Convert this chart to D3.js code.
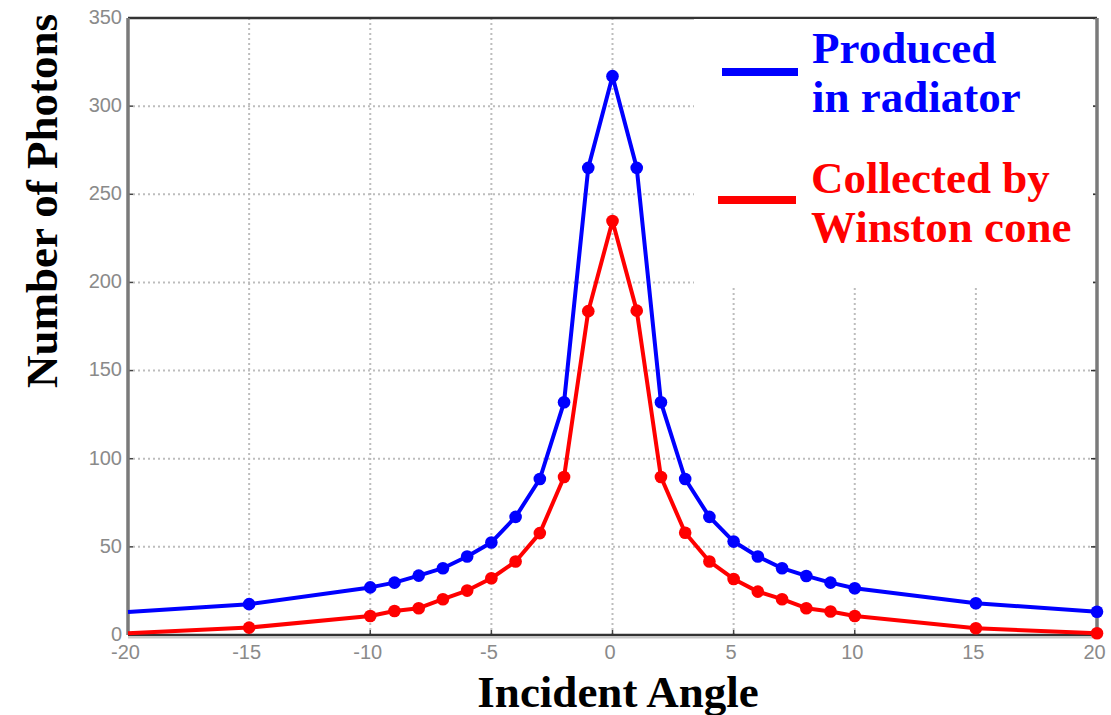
<!DOCTYPE html>
<html><head><meta charset="utf-8">
<script src="https://cdn.jsdelivr.net/npm/d3@7"></script>
<style>body{margin:0;background:#fff}svg{display:block}</style>
</head><body>
<svg id="c" width="1111" height="715"></svg>
<script>
const angles = [-20,-15,-10,-9,-8,-7,-6,-5,-4,-3,-2,-1,0,1,2,3,4,5,6,7,8,9,10,15,20];
const produced = [13,17.5,27,29.7,33.7,37.9,44.5,52.5,67,88.5,132,265,317,265,132,88.5,67,53,44.5,37.9,33.5,29.7,26.5,18,13.2];
const collected = [1,4.2,10.8,13.6,15.2,20.3,25.2,32.2,41.7,57.8,89.6,183.7,234.8,184,89.6,58,41.7,31.8,24.6,20.3,15.2,13.3,10.8,3.8,1];
const xTicks = [-20,-15,-10,-5,0,5,10,15,20];
const yTicks = [0,50,100,150,200,250,300,350];
const legendProduced = ["Produced","in radiator"];
const legendCollected = ["Collected by","Winston cone"];

const svg = d3.select("#c");
const L=128, T=18, R=1097, B=635;
const x = d3.scaleLinear().domain([-20,20]).range([L,R]);
const y = d3.scaleLinear().domain([0,350]).range([B,T]);

// grid
const g = svg.append("g");
g.selectAll(".gx").data(xTicks.slice(1,-1)).join("line")
  .attr("x1",d=>x(d)).attr("x2",d=>x(d)).attr("y1",T).attr("y2",B)
  .attr("stroke","#bdbdbd").attr("stroke-width",2).attr("stroke-dasharray","2,3");
g.selectAll(".gy").data(yTicks.slice(1,-1)).join("line")
  .attr("y1",d=>y(d)).attr("y2",d=>y(d)).attr("x1",L).attr("x2",R)
  .attr("stroke","#bdbdbd").attr("stroke-width",2).attr("stroke-dasharray","2,3");

// inner ticks
g.selectAll(".tb").data(xTicks).join("line")
  .attr("x1",d=>x(d)).attr("x2",d=>x(d)).attr("y1",B).attr("y2",B-5).attr("stroke","#444").attr("stroke-width",1.5);
g.selectAll(".tr").data(yTicks).join("line")
  .attr("y1",d=>y(d)).attr("y2",d=>y(d)).attr("x1",R).attr("x2",R-6).attr("stroke","#333").attr("stroke-width",1.5);
g.selectAll(".tl").data(yTicks).join("line")
  .attr("y1",d=>y(d)).attr("y2",d=>y(d)).attr("x1",L).attr("x2",L+5).attr("stroke","#444").attr("stroke-width",1.5);

// axes tick labels
const fmt = d => String(d);
const xAxis = d3.axisBottom(x).tickValues(xTicks).tickFormat(fmt).tickSize(0).tickPadding(10);
const ax = svg.append("g").attr("transform",`translate(-3,${B})`).call(xAxis);
ax.select(".domain").remove();
ax.selectAll("text").attr("font-family","Liberation Sans, Arial, sans-serif").attr("font-size",20).attr("fill","#8a8a8a");
const yAxis = d3.axisLeft(y).tickValues(yTicks).tickFormat(fmt).tickSize(0).tickPadding(6);
const ay = svg.append("g").attr("transform",`translate(${L},-1)`).call(yAxis);
ay.select(".domain").remove();
ay.selectAll("text").attr("font-family","Liberation Sans, Arial, sans-serif").attr("font-size",20).attr("fill","#8a8a8a");

// frame
svg.append("line").attr("x1",L).attr("x2",R).attr("y1",T).attr("y2",T).attr("stroke","#333").attr("stroke-width",2.5);
svg.append("line").attr("x1",L).attr("x2",R+2).attr("y1",B).attr("y2",B).attr("stroke","#333").attr("stroke-width",2.5);
svg.append("line").attr("x1",L).attr("x2",R+2).attr("y1",B+2.5).attr("y2",B+2.5).attr("stroke","#c8c8c8").attr("stroke-width",2);
svg.append("line").attr("x1",L).attr("x2",L).attr("y1",T).attr("y2",B).attr("stroke","#7a7a7a").attr("stroke-width",3.5);
svg.append("line").attr("x1",R).attr("x2",R).attr("y1",T).attr("y2",B).attr("stroke","#7a7a7a").attr("stroke-width",3.5);

// series
const series = [
  {vals: produced, color: "#0000ff"},
  {vals: collected, color: "#ff0000"}
];
const line = d3.line().x(d=>x(d.a)).y(d=>y(d.v));
series.forEach(s=>{
  const data = angles.map((a,i)=>({a, v:s.vals[i]}));
  svg.append("path").datum(data).attr("d",line).attr("fill","none")
    .attr("stroke",s.color).attr("stroke-width",4).attr("stroke-linejoin","round");
  svg.append("g").selectAll("path").data(data.filter(d=>d.a>-20)).join("path")
    .attr("transform",d=>`translate(${x(d.a)},${y(d.v)})`)
    .attr("d",d3.symbol(d3.symbolCircle,125)())
    .attr("fill",s.color);
});

// legend box
svg.append("rect").attr("x",694).attr("y",19).attr("width",399).attr("height",266).attr("fill","#fff");
const lg = svg.append("g").attr("font-family","Liberation Serif, Times New Roman, serif").attr("font-weight","bold").attr("font-size",45);
lg.append("line").attr("x1",722).attr("x2",798).attr("y1",72).attr("y2",72).attr("stroke","#0000ff").attr("stroke-width",8);
lg.append("line").attr("x1",718).attr("x2",796).attr("y1",200).attr("y2",200).attr("stroke","#ff0000").attr("stroke-width",8);
lg.selectAll(".p").data(legendProduced).join("text").attr("x",812).attr("y",(d,i)=>63+i*49).attr("fill","#0000ff").text(d=>d);
lg.selectAll(".q").data(legendCollected).join("text").attr("x",811).attr("y",(d,i)=>193+i*49).attr("fill","#ff0000").text(d=>d);

// axis titles
svg.append("text").attr("x",618).attr("y",707).attr("text-anchor","middle")
  .attr("font-family","Liberation Serif, Times New Roman, serif").attr("font-weight","bold").attr("font-size",45)
  .attr("fill","#000").text("Incident Angle");
svg.append("text").attr("transform","translate(57,201) rotate(-90)").attr("text-anchor","middle")
  .attr("font-family","Liberation Serif, Times New Roman, serif").attr("font-weight","bold").attr("font-size",45)
  .attr("fill","#000").text("Number of Photons");
</script>
</body></html>
